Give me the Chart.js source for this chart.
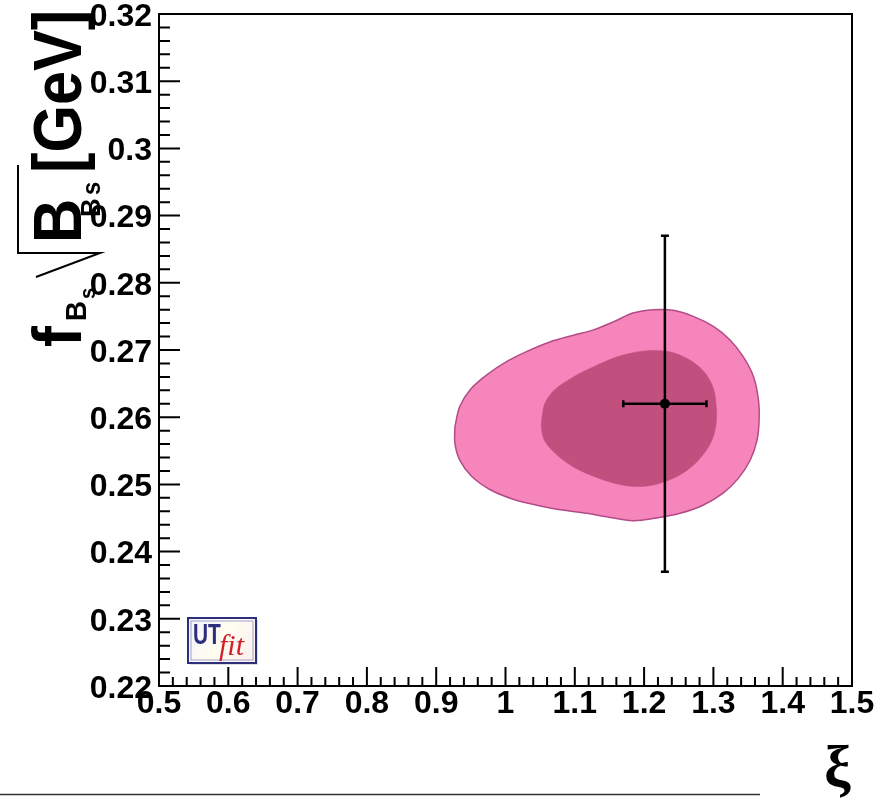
<!DOCTYPE html>
<html>
<head>
<meta charset="utf-8">
<script src="https://cdn.jsdelivr.net/npm/chart.js@4.4.1/dist/chart.umd.min.js"></script>
<style>
  html, body { margin: 0; padding: 0; background: #fff; }
  #wrap { width: 880px; height: 805px; position: relative; }
  canvas { display: block; }
</style>
</head>
<body>
<div id="wrap"><canvas id="c" width="880" height="805"></canvas></div>
<script>
// Axis ticks
const xiTicks = [0.5, 0.6, 0.7, 0.8, 0.9, 1.0, 1.1, 1.2, 1.3, 1.4, 1.5];
const fTicks = [0.22, 0.23, 0.24, 0.25, 0.26, 0.27, 0.28, 0.29, 0.30, 0.31, 0.32];

// 95% probability region (outer contour)
const outerXi = [0.927, 0.934, 0.949, 0.973, 1.002, 1.031, 1.064, 1.098, 1.127, 1.156, 1.184, 1.213,
                 1.242, 1.271, 1.300, 1.324, 1.343, 1.358, 1.365, 1.366, 1.363, 1.353, 1.336, 1.314,
                 1.285, 1.252, 1.218, 1.184, 1.146, 1.117, 1.088, 1.050, 1.011, 0.978, 0.951, 0.934, 0.927];
const outerF  = [0.2586, 0.2616, 0.2641, 0.2663, 0.2683, 0.2698, 0.2712, 0.2722, 0.2730, 0.2742, 0.2755, 0.2760,
                 0.2759, 0.2750, 0.2735, 0.2715, 0.2690, 0.2660, 0.2626, 0.2596, 0.2566, 0.2536, 0.2509, 0.2487,
                 0.2469, 0.2457, 0.2450, 0.2446, 0.2452, 0.2457, 0.2461, 0.2468, 0.2478, 0.2492, 0.2512, 0.2536, 0.2561];

// 68% probability region (inner contour)
const innerXi = [1.052, 1.057, 1.071, 1.098, 1.127, 1.156, 1.180, 1.204, 1.233, 1.257, 1.276, 1.290,
                 1.300, 1.304, 1.304, 1.298, 1.285, 1.266, 1.242, 1.213, 1.184, 1.156, 1.127, 1.098,
                 1.074, 1.057, 1.052];
const innerF  = [0.2596, 0.2621, 0.2641, 0.2660, 0.2675, 0.2688, 0.2695, 0.2699, 0.2698, 0.2690, 0.2678, 0.2663,
                 0.2643, 0.2618, 0.2591, 0.2566, 0.2544, 0.2524, 0.2509, 0.2499, 0.2497, 0.2502, 0.2512, 0.2526,
                 0.2544, 0.2564, 0.2581];

// Lattice input with uncertainties
const pointXi = [1.23];
const pointF  = [0.262];
const xiErr   = [0.06];
const fErr    = [0.025];

const SANS = '"Liberation Sans", Arial, Helvetica, sans-serif';
const SERIF = '"Liberation Serif", "Times New Roman", serif';

function closedLoop(xs, ys) {
  const pts = xs.map((x, i) => ({ x: x, y: ys[i] }));
  pts.push({ x: xs[0], y: ys[0] });
  return pts;
}

function fmt(v, d) { return String(parseFloat(v.toFixed(d))); }

// ROOT-style frame with inward ticks, error bars
const rootFrame = {
  id: 'rootFrame',
  afterDatasetsDraw(chart) {
    const ctx = chart.ctx;
    const xs = chart.scales.x, ys = chart.scales.y;
    const a = chart.chartArea;

    // error bars
    ctx.save();
    ctx.strokeStyle = '#000';
    ctx.lineWidth = 2.5;
    for (let i = 0; i < pointXi.length; i++) {
      const px = xs.getPixelForValue(pointXi[i]);
      const py = ys.getPixelForValue(pointF[i]);
      const x1 = xs.getPixelForValue(pointXi[i] - xiErr[i]);
      const x2 = xs.getPixelForValue(pointXi[i] + xiErr[i]);
      const y1 = ys.getPixelForValue(pointF[i] + fErr[i]);
      const y2 = ys.getPixelForValue(pointF[i] - fErr[i]);
      ctx.beginPath();
      ctx.moveTo(px, y1); ctx.lineTo(px, y2);
      ctx.moveTo(x1, py); ctx.lineTo(x2, py);
      ctx.moveTo(px - 4, y1); ctx.lineTo(px + 4, y1);
      ctx.moveTo(px - 4, y2); ctx.lineTo(px + 4, y2);
      ctx.moveTo(x1, py - 3.5); ctx.lineTo(x1, py + 3.5);
      ctx.moveTo(x2, py - 3.5); ctx.lineTo(x2, py + 3.5);
      ctx.stroke();
      ctx.fillStyle = '#000';
      ctx.beginPath();
      ctx.arc(px, py, 5, 0, Math.PI * 2);
      ctx.fill();
    }
    ctx.restore();

    // frame
    ctx.save();
    ctx.strokeStyle = '#000';
    ctx.lineWidth = 2;
    ctx.strokeRect(a.left, a.top, a.right - a.left, a.bottom - a.top);

    // inward ticks: 5 subdivisions per major step
    ctx.beginPath();
    for (let i = 0; i < xiTicks.length; i++) {
      const v = xiTicks[i];
      const p = xs.getPixelForValue(v);
      ctx.moveTo(p, a.bottom); ctx.lineTo(p, a.bottom - 19);
      if (i < xiTicks.length - 1) {
        const step = (xiTicks[i + 1] - v) / 5;
        for (let k = 1; k < 5; k++) {
          const q = xs.getPixelForValue(v + k * step);
          ctx.moveTo(q, a.bottom); ctx.lineTo(q, a.bottom - 9);
        }
      }
    }
    for (let i = 0; i < fTicks.length; i++) {
      const v = fTicks[i];
      const p = ys.getPixelForValue(v);
      ctx.moveTo(a.left, p); ctx.lineTo(a.left + 21, p);
      if (i < fTicks.length - 1) {
        const step = (fTicks[i + 1] - v) / 5;
        for (let k = 1; k < 5; k++) {
          const q = ys.getPixelForValue(v + k * step);
          ctx.moveTo(a.left, q); ctx.lineTo(a.left + 11, q);
        }
      }
    }
    ctx.stroke();
    ctx.restore();
  },
  afterDraw(chart) {
    const ctx = chart.ctx;

    // y-axis title: f_{B_s} sqrt(B_{B_s}) [GeV]
    ctx.save();
    ctx.translate(81, 347);
    ctx.rotate(-Math.PI / 2);
    ctx.fillStyle = '#000';
    ctx.textAlign = 'left';
    ctx.textBaseline = 'alphabetic';
    const put = (t, x, y, size, sx) => {
      ctx.save();
      ctx.translate(x, y);
      ctx.scale(sx, 1);
      ctx.font = 'bold ' + size + 'px ' + SANS;
      ctx.fillText(t, 0, 0);
      ctx.restore();
    };
    put('f', 0, 0, 68, 0.92);
    put('B', 26, 5, 30, 0.92);
    put('s', 48, 14, 22, 0.92);
    ctx.strokeStyle = '#000';
    ctx.lineWidth = 2;
    ctx.beginPath();
    ctx.moveTo(70, -45);
    ctx.lineTo(94, 19);
    ctx.lineTo(94, -63);
    ctx.lineTo(182, -63);
    ctx.stroke();
    put('B', 104, 0, 68, 0.9);
    put('B', 130, 19, 28, 0.92);
    put('s', 152, 19, 26, 0.92);
    put('[GeV]', 174, 0, 68, 0.9);
    ctx.restore();

    // x-axis title
    ctx.save();
    ctx.fillStyle = '#000';
    ctx.font = 'bold 60px ' + SERIF;
    ctx.textAlign = 'left';
    ctx.textBaseline = 'alphabetic';
    ctx.fillText('\u03BE', 824, 787);
    ctx.restore();

    // logo
    ctx.save();
    const lx = 188, ly = 618, lw = 68, lh = 45;
    const g = ctx.createLinearGradient(lx, ly, lx + lw, ly + lh);
    g.addColorStop(0, '#f2f2ff');
    g.addColorStop(0.5, '#fffdf0');
    g.addColorStop(1, '#fbeef0');
    ctx.fillStyle = 'rgba(0,0,0,0.12)';
    ctx.fillRect(lx + 2, ly + 2, lw, lh);
    ctx.fillStyle = g;
    ctx.fillRect(lx, ly, lw, lh);
    ctx.strokeStyle = '#2d2f7c';
    ctx.lineWidth = 2;
    ctx.strokeRect(lx, ly, lw, lh);
    ctx.lineWidth = 0.8;
    ctx.strokeStyle = '#8a8cc0';
    ctx.strokeRect(lx + 3, ly + 3, lw - 6, lh - 6);
    ctx.fillStyle = '#2d2f7c';
    ctx.save();
    ctx.translate(193, 644);
    ctx.scale(0.72, 1);
    ctx.font = 'bold 29px ' + SANS;
    ctx.fillText('UT', 0, 0);
    ctx.restore();
    ctx.fillStyle = '#d21f2e';
    ctx.font = 'italic 30px ' + SERIF;
    ctx.fillText('fit', 219, 655);
    ctx.restore();

    // rule below the figure
    ctx.save();
    ctx.strokeStyle = '#333';
    ctx.lineWidth = 1.5;
    ctx.beginPath();
    ctx.moveTo(0, 794.5);
    ctx.lineTo(760, 794.5);
    ctx.stroke();
    ctx.restore();
  }
};

new Chart(document.getElementById('c'), {
  type: 'line',
  data: {
    datasets: [
      {
        label: '68%',
        data: closedLoop(innerXi, innerF),
        borderColor: '#c2507e',
        borderWidth: 0.5,
        backgroundColor: '#c2507e',
        fill: 'shape',
        tension: 0.35,
        pointRadius: 0
      },
      {
        label: '95%',
        data: closedLoop(outerXi, outerF),
        borderColor: '#b24c88',
        borderWidth: 1.5,
        backgroundColor: '#f585bb',
        fill: 'shape',
        tension: 0.35,
        pointRadius: 0
      }
    ]
  },
  options: {
    responsive: false,
    animation: false,
    devicePixelRatio: 1,
    layout: { padding: { left: 0, top: 14, right: 28, bottom: 0 } },
    plugins: { legend: { display: false }, tooltip: { enabled: false } },
    scales: {
      x: {
        type: 'linear',
        min: 0.5, max: 1.5,
        afterBuildTicks(s) { s.ticks = xiTicks.map(v => ({ value: v })); },
        afterFit(s) { s.height = 119; s.paddingLeft = 0; s.paddingRight = 0; },
        grid: { display: false, drawTicks: false },
        border: { display: false },
        ticks: {
          autoSkip: false,
          maxRotation: 0,
          padding: 2,
          color: '#000',
          font: { family: SANS, size: 32, weight: 'bold', lineHeight: 1 },
          callback: v => fmt(v, 1)
        }
      },
      y: {
        type: 'linear',
        min: 0.22, max: 0.32,
        afterBuildTicks(s) { s.ticks = fTicks.map(v => ({ value: v })); },
        afterFit(s) { s.width = 159; s.paddingTop = 0; s.paddingBottom = 0; },
        grid: { display: false, drawTicks: false },
        border: { display: false },
        ticks: {
          autoSkip: false,
          padding: 7,
          labelOffset: 3,
          color: '#000',
          font: { family: SANS, size: 32, weight: 'bold', lineHeight: 0.8 },
          callback: v => fmt(v, 2)
        }
      }
    }
  },
  plugins: [rootFrame]
});
</script>
</body>
</html>
